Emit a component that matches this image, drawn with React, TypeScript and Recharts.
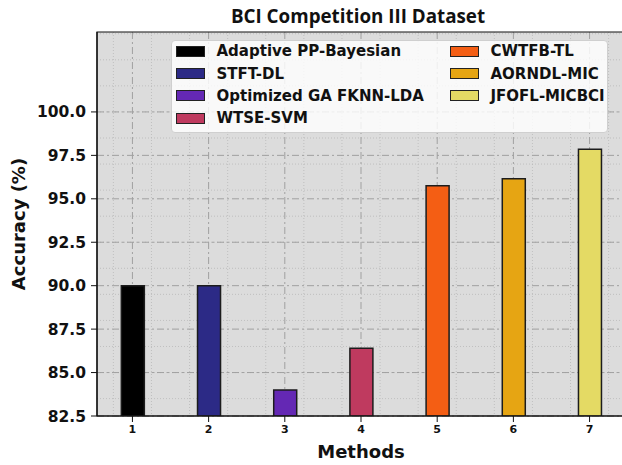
import { Bar, BarChart, CartesianGrid, Cell, ReferenceArea, XAxis, YAxis } from 'recharts'

const methods = [1, 2, 3, 4, 5, 6, 7]
const methodNames = [
  'Adaptive PP-Bayesian',
  'STFT-DL',
  'Optimized GA FKNN-LDA',
  'WTSE-SVM',
  'CWTFB-TL',
  'AORNDL-MIC',
  'JFOFL-MICBCI',
]
const accuracy = [90.0, 90.0, 84.0, 86.4, 95.75, 96.15, 97.85]
const COLORS = ['#000000', '#2c2a86', '#6428b4', '#bf3a5f', '#f45e14', '#e6a513', '#e4da64']
const yTicks = [82.5, 85, 87.5, 90, 92.5, 95, 97.5, 100]

const X_DOMAIN: [number, number] = [0.535, 7.465]
const Y_DOMAIN: [number, number] = [82.5, 104.6]

// minor tick / grid positions (0.25 on x, 0.5 on y)
const steps = (from: number, to: number, step: number) => {
  const out: number[] = []
  for (let v = from; v <= to + 1e-9; v += step) out.push(Math.round(v * 100) / 100)
  return out
}
const minorX = steps(0.75, 7.25, 0.25)
const minorY = steps(83, 104.5, 0.5)

const data = methods.map((m, i) => ({ m, acc: accuracy[i], name: methodNames[i] }))

const tickFont = { fontFamily: 'DejaVu Sans', fontWeight: 'bold', fill: '#111' }
const noLabel = () => <g />

function LegendBox() {
  const cols = [methodNames.slice(0, 4), methodNames.slice(4)]
  return (
    <div
      style={{
        position: 'absolute',
        left: 171,
        top: 40,
        width: 437,
        height: 93,
        background: 'rgba(255,255,255,0.82)',
        border: '1px solid #cfcfcf',
        borderRadius: 4,
        boxSizing: 'border-box',
        fontFamily: 'DejaVu Sans',
        fontWeight: 'bold',
        fontSize: 15,
        color: '#111',
      }}
    >
      {cols.map((col, c) =>
        col.map((name, r) => {
          const idx = c * 4 + r
          return (
            <div
              key={name}
              style={{
                position: 'absolute',
                left: c === 0 ? 4 : 278,
                top: -0.7 + r * 22.3,
                height: 22,
                display: 'flex',
                alignItems: 'center',
                whiteSpace: 'nowrap',
              }}
            >
              <span
                style={{
                  display: 'inline-block',
                  width: 27,
                  height: 9,
                  background: COLORS[idx],
                  border: '1.5px solid #222',
                  marginRight: 11.5,
                }}
              />
              {name}
            </div>
          )
        })
      )}
    </div>
  )
}

export default function App() {
  return (
    <div
      style={{
        position: 'absolute',
        left: 0,
        top: 0,
        width: 622,
        height: 465,
        overflow: 'hidden',
        background: '#fff',
      }}
    >
      <BarChart width={625} height={465} data={data} margin={{ top: 32, right: 0, bottom: 0, left: 0 }}>
        <XAxis
          xAxisId="minor"
          type="number"
          dataKey="m"
          domain={X_DOMAIN}
          allowDataOverflow
          ticks={minorX}
          height={0}
          axisLine={false}
          tickSize={3}
          tickLine={{ stroke: '#111' }}
          tick={noLabel}
        />
        <YAxis
          yAxisId="minor"
          type="number"
          domain={Y_DOMAIN}
          allowDataOverflow
          ticks={minorY}
          width={0}
          axisLine={false}
          tickSize={3}
          tickLine={{ stroke: '#111' }}
          tick={noLabel}
        />
        <XAxis
          type="number"
          dataKey="m"
          domain={X_DOMAIN}
          allowDataOverflow
          ticks={methods}
          height={49}
          tickSize={6}
          tickMargin={3}
          axisLine={{ stroke: '#111', strokeWidth: 1.2 }}
          tickLine={{ stroke: '#111' }}
          tick={{ ...tickFont, fontSize: 11 }}
        />
        <YAxis
          type="number"
          domain={Y_DOMAIN}
          allowDataOverflow
          ticks={yTicks}
          tickFormatter={(v: number) => v.toFixed(1)}
          width={97}
          tickSize={6}
          tickMargin={5}
          axisLine={{ stroke: '#111', strokeWidth: 1.2 }}
          tickLine={{ stroke: '#111' }}
          tick={{ ...tickFont, fontSize: 15.5 }}
        />
        <CartesianGrid
          fill="#dcdcdc"
          horizontalValues={minorY}
          verticalValues={minorX}
          stroke="#b8b8b8"
          strokeDasharray="1 2"
          strokeWidth={0.8}
        />
        <CartesianGrid
          horizontalValues={yTicks}
          verticalValues={methods}
          stroke="#a0a0a0"
          strokeDasharray="7 3 2 3"
          strokeWidth={1}
        />
        <ReferenceArea
          x1={X_DOMAIN[0]}
          x2={X_DOMAIN[1]}
          y1={Y_DOMAIN[0]}
          y2={Y_DOMAIN[1]}
          fill="none"
          stroke="#111"
          strokeWidth={1.2}
        />
        <Bar dataKey="acc" barSize={23} isAnimationActive={false}>
          {data.map((_, i) => (
            <Cell key={i} fill={COLORS[i]} stroke="#1c1c1c" strokeWidth={1.5} />
          ))}
        </Bar>
      </BarChart>

      <LegendBox />

      <div
        style={{
          position: 'absolute',
          left: 97,
          width: 522,
          top: 3,
          textAlign: 'center',
          fontFamily: 'Open Sans',
          fontWeight: 'bold',
          fontSize: 18.8,
          color: '#111',
        }}
      >
        BCI Competition III Dataset
      </div>
      <div
        style={{
          position: 'absolute',
          left: 97,
          width: 528,
          top: 441,
          textAlign: 'center',
          fontFamily: 'DejaVu Sans',
          fontWeight: 'bold',
          fontSize: 18,
          color: '#111',
        }}
      >
        Methods
      </div>
      <div
        style={{
          position: 'absolute',
          left: 18,
          top: 224,
          transform: 'translate(-50%, -50%) rotate(-90deg)',
          whiteSpace: 'nowrap',
          fontFamily: 'DejaVu Sans',
          fontWeight: 'bold',
          fontSize: 18,
          color: '#111',
        }}
      >
        Accuracy (%)
      </div>
    </div>
  )
}
